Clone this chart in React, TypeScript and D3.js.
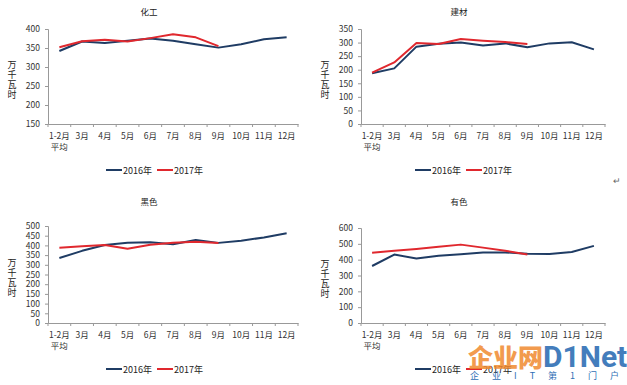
import { useEffect, useRef } from 'react';
import * as d3 from 'd3';

const months = ['1-2月', '3月', '4月', '5月', '6月', '7月', '8月', '9月', '10月', '11月', '12月'];
const seriesNames = ['2016年', '2017年'];

const chem2016 = [342, 367, 363, 369, 375, 369, 360, 351, 360, 373, 378];
const chem2017 = [352, 368, 372, 367, 376, 386, 378, 355];
const chemTicks = [150, 200, 250, 300, 350, 400];

const build2016 = [187, 205, 285, 296, 300, 289, 297, 283, 297, 301, 275];
const build2017 = [189, 227, 298, 295, 313, 307, 302, 295];
const buildTicks = [0, 50, 100, 150, 200, 250, 300, 350];

const ferrous2016 = [335, 372, 402, 414, 416, 406, 428, 413, 424, 441, 463];
const ferrous2017 = [388, 395, 402, 383, 403, 414, 419, 413];
const ferrousTicks = [0, 50, 100, 150, 200, 250, 300, 350, 400, 450, 500];

const nonferrous2016 = [360, 432, 407, 425, 434, 445, 446, 437, 436, 448, 487];
const nonferrous2017 = [444, 456, 468, 481, 495, 476, 457, 432];
const nonferrousTicks = [0, 100, 200, 300, 400, 500, 600];

const colors = ['#1f3c64', '#e0282e'];
const font = '"Noto Sans CJK SC", "Noto Sans", sans-serif';

const panels = [
  { title: '化工', ox: 0, oy: 0, top: 29, bottom: 124, s16: chem2016, s17: chem2017, ticks: chemTicks, legendX: 106 },
  { title: '建材', ox: 313, oy: 0, top: 29, bottom: 124, s16: build2016, s17: build2017, ticks: buildTicks, legendX: 102 },
  { title: '黑色', ox: 0, oy: 190, top: 36, bottom: 133, s16: ferrous2016, s17: ferrous2017, ticks: ferrousTicks, legendX: 106 },
  { title: '有色', ox: 313, oy: 190, top: 38, bottom: 133, s16: nonferrous2016, s17: nonferrous2017, ticks: nonferrousTicks, legendX: 102 },
];

export default function App() {
  const svgRef = useRef<SVGSVGElement>(null);

  useEffect(() => {
    if (!svgRef.current) return;
    const svg = d3.select(svgRef.current);
    svg.selectAll('*').remove();

    svg.append('rect').attr('width', 627).attr('height', 385).attr('fill', '#fff');

    panels.forEach((p, pi) => {
      const g = svg.append('g').attr('transform', `translate(${p.ox}, ${p.oy})`);
      const right = pi % 2 === 0 ? 298 : 292;
      const left = 48;

      const x = d3.scaleBand().domain(months).range([left, right]);
      const y = d3.scaleLinear()
        .domain([p.ticks[0], p.ticks[p.ticks.length - 1]])
        .range([p.bottom, p.top]);

      // title
      g.append('text')
        .attr('x', (left + right) / 2 - 24)
        .attr('y', 15)
        .attr('text-anchor', 'middle')
        .attr('font-size', '8.5px')
        .attr('font-family', font)
        .attr('fill', '#222')
        .text(p.title);

      // y axis
      const yAxis = g.append('g')
        .attr('transform', `translate(${left}, 0)`)
        .call(d3.axisLeft(y).tickValues(p.ticks).tickSize(3).tickPadding(5));
      yAxis.selectAll('text')
        .attr('font-size', '8.5px')
        .attr('font-family', font)
        .attr('fill', '#333');

      // x axis, ticks on category boundaries
      const xAxis = g.append('g')
        .attr('transform', `translate(0, ${p.bottom})`)
        .call(d3.axisBottom(x).tickSize(0).tickPadding(9));
      xAxis.selectAll('text')
        .attr('font-size', '8.5px')
        .attr('font-family', font)
        .attr('fill', '#333');
      xAxis.selectAll('.tick')
        .filter((d) => d === months[0])
        .append('text')
        .attr('y', 20)
        .attr('dy', '0.71em')
        .attr('font-size', '8.5px')
        .attr('font-family', font)
        .attr('fill', '#333')
        .attr('text-anchor', 'middle')
        .text('平均');
      const bounds = months.map((m) => x(m) || 0).concat([right]);
      xAxis.selectAll('.bound')
        .data(bounds)
        .enter()
        .append('line')
        .attr('x1', (d) => d)
        .attr('x2', (d) => d)
        .attr('y1', 0)
        .attr('y2', 3)
        .attr('stroke', '#999');

      g.selectAll('.domain').attr('stroke', '#999');
      g.selectAll('.tick line').attr('stroke', '#999');

      // unit label, written vertically
      g.append('text')
        .attr('x', 12)
        .attr('y', (p.top + p.bottom) / 2 - 16)
        .attr('font-size', '9px')
        .attr('font-family', font)
        .attr('fill', '#222')
        .style('writing-mode', 'vertical-rl')
        .style('letter-spacing', '1px')
        .text('万千瓦时');

      // lines
      const line = d3.line<number>()
        .x((_, i) => (x(months[i]) || 0) + x.bandwidth() / 2)
        .y((d) => y(d));
      [p.s16, p.s17].forEach((s, si) => {
        g.append('path')
          .datum(s)
          .attr('fill', 'none')
          .attr('stroke', colors[si])
          .attr('stroke-width', 2)
          .attr('stroke-linejoin', 'round')
          .attr('d', line);
      });

      // legend
      const ly = p.bottom + 46;
      seriesNames.forEach((name, si) => {
        const lx = p.legendX + si * 51;
        g.append('line')
          .attr('x1', lx)
          .attr('x2', lx + 16)
          .attr('y1', ly)
          .attr('y2', ly)
          .attr('stroke', colors[si])
          .attr('stroke-width', 2);
        g.append('text')
          .attr('x', lx + 17)
          .attr('y', ly + 3.5)
          .attr('font-size', '9px')
          .attr('font-family', font)
          .attr('fill', '#222')
          .text(name);
      });
    });

    // paragraph mark
    svg.append('text')
      .attr('x', 613)
      .attr('y', 184)
      .attr('font-size', '9px')
      .attr('font-family', font)
      .attr('fill', '#666')
      .text('↵');

    // watermark
    svg.append('text')
      .attr('x', 468)
      .attr('y', 367)
      .attr('font-size', '25px')
      .attr('font-weight', 900)
      .attr('font-family', font)
      .attr('fill', '#f08a30')
      .attr('opacity', 0.85)
      .text('企业网');
    svg.append('text')
      .attr('x', 543)
      .attr('y', 367)
      .attr('font-size', '30px')
      .attr('font-weight', 700)
      .attr('font-family', 'Roboto, sans-serif')
      .attr('fill', '#2f6fb5')
      .attr('opacity', 0.9)
      .text('D1Net');
    svg.append('text')
      .attr('x', 470)
      .attr('y', 379)
      .attr('font-size', '9px')
      .attr('font-family', font)
      .attr('fill', '#2f6fb5')
      .attr('letter-spacing', '13px')
      .text('企业IT第1门户');
  }, []);

  return (
    <svg
      ref={svgRef}
      width={627}
      height={385}
      style={{ position: 'absolute', left: 0, top: 0 }}
    />
  );
}
